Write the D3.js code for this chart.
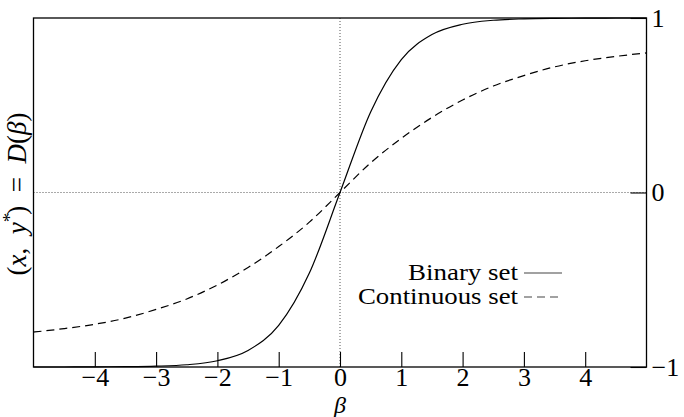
<!DOCTYPE html>
<html lang="en">
<head>
  <meta charset="UTF-8">
  <title>D(beta)</title>
  <script src="https://d3js.org/d3.v7.min.js"></script>
  <style>
    body { margin: 0; background: #fff; }
    text { font-family: "Liberation Serif", "Times New Roman", serif; fill: #000; }
  </style>
</head>
<body>

<svg id="chart" width="684" height="417"></svg>

<script>
  // values
  var betaValues = [-5, -4.5, -4, -3.5, -3, -2.5, -2, -1.5, -1, -0.5, 0,
                    0.5, 1, 1.5, 2, 2.5, 3, 3.5, 4, 4.5, 5];
  var binarySet = [-1.0, -1.0, -0.999, -0.998, -0.995, -0.987, -0.964, -0.905, -0.762, -0.462, 0,
                   0.462, 0.762, 0.905, 0.964, 0.987, 0.995, 0.998, 0.999, 1.0, 1.0];
  var continuousSet = [-0.80, -0.78, -0.755, -0.72, -0.67, -0.61, -0.53, -0.43, -0.31, -0.17, 0,
                       0.17, 0.31, 0.43, 0.53, 0.61, 0.67, 0.72, 0.755, 0.78, 0.80];
  var xTicks = [-4, -3, -2, -1, 0, 1, 2, 3, 4];
  var yTicks = [-1, 0, 1];

  var svg = d3.select('#chart');
  var x = d3.scaleLinear().domain([-5, 5]).range([33.5, 646.5]);
  var y = d3.scaleLinear().domain([-1, 1]).range([367, 18]);
  var fmt = d3.format('d');

  // dotted zero lines
  svg.append('line')
    .attr('x1', x(-5)).attr('x2', x(5)).attr('y1', y(0)).attr('y2', y(0))
    .attr('stroke', '#555').attr('stroke-width', 1).attr('stroke-dasharray', '1,2');
  svg.append('line')
    .attr('x1', x(0)).attr('x2', x(0)).attr('y1', y(1)).attr('y2', y(-1))
    .attr('stroke', '#555').attr('stroke-width', 1).attr('stroke-dasharray', '1,2');

  // bottom axis, ticks pointing inside
  var bottom = svg.append('g')
    .attr('transform', 'translate(0,' + y(-1) + ')')
    .call(d3.axisBottom(x).tickValues(xTicks).tickFormat(fmt)
      .tickSizeInner(-15).tickSizeOuter(0).tickPadding(1));
  bottom.select('.domain').remove();
  bottom.selectAll('line').attr('stroke', '#000').attr('stroke-width', 1.1);
  bottom.selectAll('text').style('font-size', '26px').style('font-family', '"Liberation Serif", serif');

  // right axis
  var right = svg.append('g')
    .attr('transform', 'translate(' + x(5) + ',0)')
    .call(d3.axisRight(y).tickValues(yTicks).tickFormat(fmt)
      .tickSizeInner(-16).tickSizeOuter(0).tickPadding(5));
  right.select('.domain').remove();
  right.selectAll('line').attr('stroke', '#000').attr('stroke-width', 1.1);
  right.selectAll('text').style('font-size', '26px').style('font-family', '"Liberation Serif", serif');

  // curves
  var line = function (vals) {
    return d3.line()
      .x(function (d, i) { return x(betaValues[i]); })
      .y(function (d) { return y(d); })
      .curve(d3.curveMonotoneX)(vals);
  };
  svg.append('path').attr('d', line(binarySet))
    .attr('fill', 'none').attr('stroke', '#000').attr('stroke-width', 1.2);
  svg.append('path').attr('d', line(continuousSet))
    .attr('fill', 'none').attr('stroke', '#000').attr('stroke-width', 1.2)
    .attr('stroke-dasharray', '8,5');

  // frame
  svg.append('rect')
    .attr('x', x(-5)).attr('y', y(1))
    .attr('width', x(5) - x(-5)).attr('height', y(-1) - y(1))
    .attr('fill', 'none').attr('stroke', '#000').attr('stroke-width', 1.3);

  // legend
  var legend = [
    { label: 'Binary set', dash: null, yy: 280, w: 110 },
    { label: 'Continuous set', dash: '8,5', yy: 304, w: 160 }
  ];
  legend.forEach(function (l) {
    svg.append('text').attr('x', 518).attr('y', l.yy)
      .attr('text-anchor', 'end').style('font-size', '23px')
      .attr('textLength', l.w).attr('lengthAdjust', 'spacingAndGlyphs')
      .text(l.label);
    svg.append('line')
      .attr('x1', 524).attr('x2', 562).attr('y1', l.yy - 7).attr('y2', l.yy - 7)
      .attr('stroke', '#444').attr('stroke-width', 1.1)
      .attr('stroke-dasharray', l.dash);
  });

  // axis labels
  svg.append('text')
    .attr('x', x(0)).attr('y', 413).attr('text-anchor', 'middle')
    .style('font-size', '24px').style('font-style', 'italic').text('β');

  var yl = svg.append('text')
    .attr('transform', 'translate(26,' + 194 + ') rotate(-90)')
    .attr('text-anchor', 'middle').style('font-size', '27px');
  yl.append('tspan').text('(');
  yl.append('tspan').style('font-style', 'italic').text('x');
  yl.append('tspan').text(',\u2002');
  yl.append('tspan').style('font-style', 'italic').text('y');
  yl.append('tspan').attr('dy', -10).style('font-size', '19px').text('*');
  yl.append('tspan').attr('dy', 10).attr('dx', -2).text(')\u2002=\u2002');
  yl.append('tspan').style('font-style', 'italic').text('D');
  yl.append('tspan').text('(');
  yl.append('tspan').style('font-style', 'italic').text('β');
  yl.append('tspan').text(')');
</script>

</body>
</html>
